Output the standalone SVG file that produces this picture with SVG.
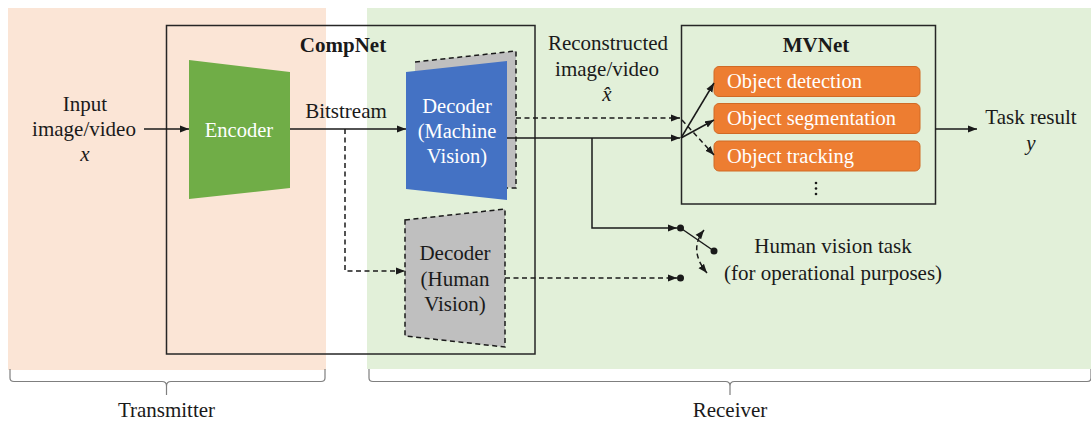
<svg xmlns="http://www.w3.org/2000/svg" width="1091" height="423" viewBox="0 0 1091 423">
<style>
text{font-family:"Liberation Serif","Times New Roman",serif;fill:#1a1a1a}
.t{font-size:21px}
.b{font-size:21px;font-weight:bold}
.w{font-size:20.5px;fill:#fff}
.m{font-size:21px;font-style:italic}
.ln{fill:none;stroke:#1a1a1a;stroke-width:1.5}
.ds{fill:none;stroke:#1a1a1a;stroke-width:1.5;stroke-dasharray:5,3.5}
.br{fill:none;stroke:#7f7f7f;stroke-width:1.2}
.ob{fill:#ed7d31;stroke:#d06a25;stroke-width:1}
</style>
<defs>
<marker id="ah" markerUnits="userSpaceOnUse" markerWidth="10" markerHeight="8" refX="9" refY="4" orient="auto-start-reverse"><path d="M0,0.5 L9,4 L0,7.5 z" fill="#1a1a1a"/></marker>
</defs>
<rect x="0" y="0" width="1091" height="423" fill="#fff"/>
<g id="transmitter-bg"><rect x="8" y="8" width="318" height="362" fill="#fbe5d6"/></g>
<g id="receiver-bg"><rect x="367" y="8" width="724" height="361" fill="#e2f0d9"/></g>

<g id="compnet"><rect x="166.5" y="25.5" width="368.5" height="328.5" fill="none" stroke="#262626" stroke-width="1.5"/><text class="b" x="343" y="52" text-anchor="middle">CompNet</text></g>

<g id="input"><text class="t" x="85" y="111" text-anchor="middle">Input</text><text class="t" x="84" y="136" text-anchor="middle">image/video</text><text class="m" x="85" y="161" text-anchor="middle">x</text></g>

<g id="encoder"><polygon points="189,60 290,72 290,188 189,199" fill="#70ad47"/><text class="w" x="239" y="137" text-anchor="middle">Encoder</text></g>

<g id="bitstream-label"><text class="t" x="346" y="118" text-anchor="middle">Bitstream</text></g>

<g id="decoder-mv">
<polygon points="415,62 516,51 516,188 415,178" fill="#bfbfbf"/>
<polyline points="415,62 516,51 516,188 507,188" class="ds" stroke-width="1.3"/>
<polygon points="406,72 507,61 507,200 406,189" fill="#4472c4"/>
<text class="w" x="457" y="113" text-anchor="middle">Decoder</text>
<text class="w" x="457" y="138" text-anchor="middle">(Machine</text>
<text class="w" x="457" y="163" text-anchor="middle">Vision)</text>
</g>

<g id="decoder-hv">
<polygon points="405,220 505,209 505,347 405,336" fill="#bfbfbf" class="ds" stroke-width="1.3" style="fill:#bfbfbf"/>
<text class="t" x="455" y="260" text-anchor="middle">Decoder</text>
<text class="t" x="455" y="286" text-anchor="middle">(Human</text>
<text class="t" x="455" y="311" text-anchor="middle">Vision)</text>
</g>

<g id="recon-label"><text class="t" x="608" y="50" text-anchor="middle">Reconstructed</text><text class="t" x="607" y="76" text-anchor="middle">image/video</text><text class="m" x="607" y="101" text-anchor="middle">x̂</text></g>

<g id="mvnet">
<rect x="681.5" y="25.5" width="254" height="178.5" fill="none" stroke="#262626" stroke-width="1.5"/>
<text class="b" x="816" y="52" text-anchor="middle">MVNet</text>
<rect class="ob" x="714" y="66.5" width="206" height="30" rx="5"/>
<text class="w" x="727" y="88">Object detection</text>
<rect class="ob" x="714" y="103.5" width="206" height="30" rx="5"/>
<text class="w" x="727" y="125">Object segmentation</text>
<rect class="ob" x="714" y="141" width="206" height="30" rx="5"/>
<text class="w" x="727" y="163">Object tracking</text>
<circle cx="816" cy="183" r="1.3" fill="#1a1a1a"/><circle cx="816" cy="188.5" r="1.3" fill="#1a1a1a"/><circle cx="816" cy="194" r="1.3" fill="#1a1a1a"/>
</g>

<g id="task-result"><text class="t" x="1031" y="124" text-anchor="middle">Task result</text><text class="m" x="1031" y="150" text-anchor="middle">y</text></g>

<g id="human-task"><text class="t" x="833" y="253" text-anchor="middle">Human vision task</text><text class="t" x="833" y="280" text-anchor="middle">(for operational purposes)</text></g>

<g id="connectors">
<path class="ln" d="M144,129 L189,129" marker-end="url(#ah)"/>
<path class="ln" d="M290,129 L406,129" marker-end="url(#ah)"/>
<path class="ds" d="M345,129 L345,271 L405,271" marker-end="url(#ah)"/>
<path class="ds" d="M516,118 L680,118" marker-end="url(#ah)"/>
<path class="ln" d="M507,138 L680,138" marker-end="url(#ah)"/>
<path class="ln" d="M592,138 L592,228 L677,228" marker-end="url(#ah)"/>
<path class="ds" d="M505,278 L677,278" marker-end="url(#ah)"/>
<path class="ln" d="M681,138 L714,83" marker-end="url(#ah)"/>
<path class="ln" d="M681,138 L714,120" marker-end="url(#ah)"/>
<path class="ds" d="M682,120 L714,155" marker-end="url(#ah)"/>
<path class="ln" d="M935,129 L977,129" marker-end="url(#ah)"/>
<circle cx="680.5" cy="228" r="3.5" fill="#1a1a1a"/>
<circle cx="680.5" cy="278" r="3.5" fill="#1a1a1a"/>
<path class="ln" d="M680.5,228 L714,251"/>
<circle cx="714" cy="251" r="3.5" fill="#1a1a1a"/>
<path class="ds" stroke-width="1.3" d="M704,230 Q688,250 707,273" marker-start="url(#ah)" marker-end="url(#ah)"/>
</g>

<g id="braces">
<path class="br" d="M10,369 L10,378 Q10,381.5 14,381.5 L162,381.5 Q166.5,381.5 166.5,386 L166.5,395 M166.5,386 Q166.5,381.5 171,381.5 L321,381.5 Q325,381.5 325,378 L325,369"/>
<path class="br" d="M369,369 L369,378 Q369,381.5 373,381.5 L725.5,381.5 Q730,381.5 730,386 L730,395 M730,386 Q730,381.5 734.5,381.5 L1087,381.5 Q1091,381.5 1091,378 L1091,369"/>
<text class="t" x="166.5" y="417" text-anchor="middle">Transmitter</text>
<text class="t" x="730" y="417" text-anchor="middle">Receiver</text>
</g>
</svg>
